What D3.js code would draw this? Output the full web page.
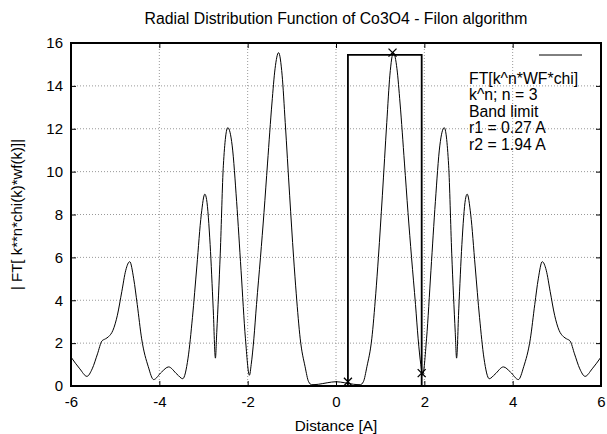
<!DOCTYPE html>
<html>
<head>
<meta charset="utf-8">
<title>Radial Distribution Function</title>
<script src="https://d3js.org/d3.v7.min.js"></script>
<style>
  body { margin: 0; background: white; font-family: "Liberation Sans", Arial, sans-serif; }
  .axis text { font-size: 15px; font-family: "Liberation Sans", Arial, sans-serif; fill: #000; }
  .axis path { display: none; }
  .axis line { stroke: #000; stroke-width: 1; }
  .grid line { stroke: #999; stroke-width: 1; stroke-dasharray: 1,2; }
</style>
</head>
<body>
<script>
// curve: distance [A] and |FT|
var dist = [-6.00, -5.80, -5.64, -5.52, -5.40, -5.30, -5.22, -5.15, -5.05, -4.95, -4.85, -4.76, -4.67, -4.58, -4.50, -4.40, -4.25, -4.13, -3.95, -3.79, -3.60, -3.47, -3.35, -3.25, -3.15, -3.05, -2.97, -2.93, -2.85, -2.78, -2.73, -2.70, -2.62, -2.55, -2.45, -2.35, -2.25, -2.15, -2.05, -1.96, -1.92, -1.86, -1.80, -1.71, -1.63, -1.55, -1.45, -1.38, -1.30, -1.22, -1.15, -1.05, -0.96, -0.90, -0.81, -0.70, -0.62, -0.55, -0.40, -0.20, 0.00,
  0.20, 0.40, 0.55, 0.62, 0.70, 0.81, 0.90, 0.96, 1.05, 1.15, 1.22, 1.30, 1.38, 1.45, 1.55, 1.63, 1.71, 1.80, 1.86, 1.92, 1.96, 2.05, 2.15, 2.25, 2.35, 2.45, 2.55, 2.62, 2.70, 2.73, 2.78, 2.85, 2.93, 2.97, 3.05, 3.15, 3.25, 3.35, 3.47, 3.60, 3.79, 3.95, 4.13, 4.25, 4.40, 4.50, 4.58, 4.67, 4.76, 4.85, 4.95, 5.05, 5.15, 5.22, 5.30, 5.40, 5.52, 5.64, 5.80, 6.00];
var ft = [1.35, 0.80, 0.45, 0.80, 1.50, 2.10, 2.20, 2.30, 2.60, 3.30, 4.40, 5.40, 5.80, 5.00, 3.80, 2.20, 0.90, 0.30, 0.65, 0.89, 0.55, 0.34, 1.30, 3.20, 5.60, 8.00, 8.95, 8.70, 6.60, 3.60, 1.30, 2.50, 6.20, 10.30, 12.05, 11.20, 8.60, 5.40, 2.20, 0.50, 1.00, 2.20, 3.80, 6.00, 8.10, 10.40, 13.20, 14.80, 15.55, 14.50, 12.30, 8.90, 6.00, 4.30, 2.20, 0.90, 0.20, 0.06, 0.08, 0.15, 0.20,
  0.15, 0.08, 0.06, 0.20, 0.90, 2.20, 4.30, 6.00, 8.90, 12.30, 14.50, 15.55, 14.80, 13.20, 10.40, 8.10, 6.00, 3.80, 2.20, 1.00, 0.50, 2.20, 5.40, 8.60, 11.20, 12.05, 10.30, 6.20, 2.50, 1.30, 3.60, 6.60, 8.70, 8.95, 8.00, 5.60, 3.20, 1.30, 0.34, 0.55, 0.89, 0.65, 0.30, 0.90, 2.20, 3.80, 5.00, 5.80, 5.40, 4.40, 3.30, 2.60, 2.30, 2.20, 2.10, 1.50, 0.80, 0.45, 0.80, 1.35];

// band limit window and the marked points
var r1 = 0.27, r2 = 1.94, winTop = 15.45;
var markX = [0.27, 1.28, 1.94];
var markY = [0.2, 15.55, 0.6];

var xTicks = [-6, -4, -2, 0, 2, 4, 6];
var yTicks = [0, 2, 4, 6, 8, 10, 12, 14, 16];
var legendLines = ["FT[k^n*WF*chi]", "k^n; n = 3", "Band limit", "r1 = 0.27 A", "r2 = 1.94 A"];

var width = 607, height = 434;
var pLeft = 71, pRight = 601, pTop = 43, pBottom = 386;

var svg = d3.select("body").append("svg")
  .attr("width", width)
  .attr("height", height);

var x = d3.scaleLinear().domain([-6, 6]).range([pLeft, pRight]);
var y = d3.scaleLinear().domain([0, 16]).range([pBottom, pTop]);
var plain = function(d){ return String(d); };

// dotted grid
var grid = svg.append("g").attr("class", "grid");
grid.selectAll(".gx")
  .data(xTicks.filter(function(d){ return d > -6 && d < 6; }))
  .enter().append("line")
  .attr("x1", function(d){ return x(d); }).attr("x2", function(d){ return x(d); })
  .attr("y1", pTop).attr("y2", pBottom);
grid.selectAll(".gy")
  .data(yTicks.filter(function(d){ return d > 0 && d < 16; }))
  .enter().append("line")
  .attr("x1", pLeft).attr("x2", pRight)
  .attr("y1", function(d){ return y(d); }).attr("y2", function(d){ return y(d); });

// axes, ticks pointing inward on all four sides
svg.append("g").attr("class", "axis")
  .attr("transform", "translate(0," + pBottom + ")")
  .call(d3.axisBottom(x).tickValues(xTicks).tickSize(-5).tickPadding(10).tickFormat(plain));
svg.append("g").attr("class", "axis")
  .attr("transform", "translate(0," + pTop + ")")
  .call(d3.axisTop(x).tickValues(xTicks).tickSize(-5).tickFormat(""));
svg.append("g").attr("class", "axis")
  .attr("transform", "translate(" + pLeft + ",0)")
  .call(d3.axisLeft(y).tickValues(yTicks).tickSize(-5).tickPadding(8).tickFormat(plain));
svg.append("g").attr("class", "axis")
  .attr("transform", "translate(" + pRight + ",0)")
  .call(d3.axisRight(y).tickValues(yTicks).tickSize(-5).tickFormat(""));

// curve
var pts = dist.map(function(d, i){ return [d, ft[i]]; });
var line = d3.line()
  .x(function(d){ return x(d[0]); })
  .y(function(d){ return y(d[1]); })
  .curve(d3.curveMonotoneX);
svg.append("path")
  .datum(pts)
  .attr("fill", "none")
  .attr("stroke", "#000")
  .attr("stroke-width", 1)
  .attr("d", line);

// band limit window
svg.append("path")
  .attr("fill", "none")
  .attr("stroke", "#000")
  .attr("stroke-width", 1.8)
  .attr("d", "M" + x(r1) + "," + y(0) + "V" + y(winTop) + "H" + x(r2) + "V" + y(0));

// x markers
var m = svg.append("g");
markX.forEach(function(d, i){
  var cx = x(d), cy = y(markY[i]), s = 4;
  m.append("path")
    .attr("d", "M" + (cx - s) + "," + (cy - s) + "L" + (cx + s) + "," + (cy + s) +
               "M" + (cx - s) + "," + (cy + s) + "L" + (cx + s) + "," + (cy - s))
    .attr("stroke", "#000")
    .attr("stroke-width", 1.3);
});

// frame
svg.append("rect")
  .attr("x", pLeft).attr("y", pTop)
  .attr("width", pRight - pLeft).attr("height", pBottom - pTop)
  .attr("fill", "none")
  .attr("stroke", "#000")
  .attr("stroke-width", 2);

// legend
svg.append("line")
  .attr("x1", 539).attr("x2", 582)
  .attr("y1", 55).attr("y2", 55)
  .attr("stroke", "#000").attr("stroke-width", 1);
svg.append("g").selectAll("text")
  .data(legendLines)
  .enter().append("text")
  .attr("x", 469)
  .attr("y", function(d, i){ return 83.5 + i * 16.5; })
  .attr("font-size", 15.8)
  .text(function(d){ return d; });

// titles
svg.append("text")
  .attr("x", (pLeft + pRight) / 2).attr("y", 23.5)
  .attr("text-anchor", "middle")
  .attr("font-size", 15.8)
  .text("Radial Distribution Function of Co3O4 - Filon algorithm");
svg.append("text")
  .attr("x", (pLeft + pRight) / 2).attr("y", 430.5)
  .attr("text-anchor", "middle")
  .attr("font-size", 15.3)
  .text("Distance [A]");
svg.append("text")
  .attr("transform", "translate(22," + ((pTop + pBottom) / 2) + ") rotate(-90)")
  .attr("text-anchor", "middle")
  .attr("font-size", 15)
  .text("| FT[ k**n*chi(k)*wf(k)]|");
</script>
</body>
</html>
